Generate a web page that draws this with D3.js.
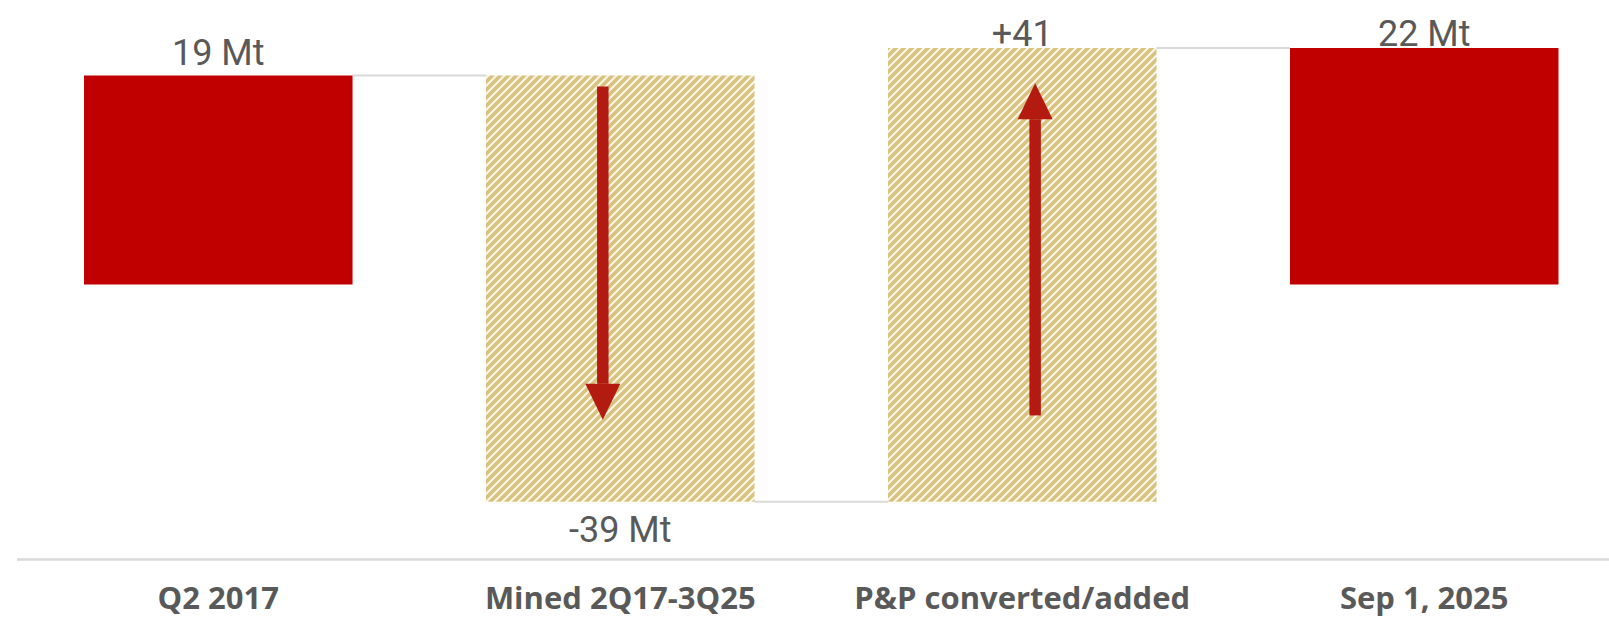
<!DOCTYPE html>
<html>
<head>
<meta charset="utf-8">
<script src="https://cdn.jsdelivr.net/npm/d3@7"></script>
<style>
  html, body { margin: 0; padding: 0; background: #ffffff; }
  svg { display: block; }
</style>
</head>
<body>
<svg id="chart" width="1609" height="619"></svg>
<script>
// ---- data ----
const categories = ["Q2 2017", "Mined 2Q17-3Q25", "P&P converted/added", "Sep 1, 2025"];
const values = [19.0, -38.75, 41.25, 21.5];          // Mt
const barTypes = ["total", "delta", "delta", "total"];
const valueLabels = ["19 Mt", "-39 Mt", "+41", "22 Mt"];
// arrows drawn inside the delta bars (value from -> value to)
const arrowCategories = ["Mined 2Q17-3Q25", "P&P converted/added"];
const arrowFrom = [18.0, -11.9];
const arrowTo = [-12.3, 18.3];

// ---- layout ----
const W = 1609, H = 619;
const svg = d3.select("#chart");

const x = d3.scaleBand()
  .domain(categories)
  .range([17, 1625.5])
  .paddingInner(0.332)
  .paddingOuter(0.1667);

const y = d3.scaleLinear().domain([-20, 22]).range([504.5, 42.5]);

// waterfall geometry
let running = 0;
const bars = categories.map((c, i) => {
  let lo, hi, endVal;
  if (barTypes[i] === "total") {
    lo = 0; hi = values[i]; endVal = values[i];
  } else {
    const start = running, end = running + values[i];
    lo = Math.min(start, end); hi = Math.max(start, end); endVal = end;
  }
  running = endVal;
  return { cat: c, type: barTypes[i], lo, hi, end: endVal, label: valueLabels[i], value: values[i] };
});

// hatch pattern
const defs = svg.append("defs");
const pat = defs.append("pattern")
  .attr("id", "hatch")
  .attr("patternUnits", "userSpaceOnUse")
  .attr("width", 8).attr("height", 8);
pat.append("rect").attr("width", 8).attr("height", 8).attr("fill", "#fbf6e8");
pat.append("path")
  .attr("d", "M-2,2 L2,-2 M0,8 L8,0 M6,10 L10,6")
  .attr("stroke", "#d8c27f")
  .attr("stroke-width", 3.6);

// axis line
svg.append("line")
  .attr("x1", 17).attr("x2", W)
  .attr("y1", 559.5).attr("y2", 559.5)
  .attr("stroke", "#d9d9d9").attr("stroke-width", 2.5);

// connectors
for (let i = 0; i < bars.length - 1; i++) {
  const lvl = bars[i].end;
  svg.append("line")
    .attr("x1", x(bars[i].cat) + x.bandwidth())
    .attr("x2", x(bars[i + 1].cat))
    .attr("y1", y(lvl)).attr("y2", y(lvl))
    .attr("stroke", "#d9d9d9").attr("stroke-width", 2);
}

// bars
svg.selectAll("rect.bar")
  .data(bars)
  .join("rect")
  .attr("class", "bar")
  .attr("x", d => x(d.cat))
  .attr("width", x.bandwidth())
  .attr("y", d => y(d.hi))
  .attr("height", d => y(d.lo) - y(d.hi))
  .attr("fill", d => d.type === "total" ? "#c00000" : "url(#hatch)");

// value labels
svg.selectAll("text.val")
  .data(bars)
  .join("text")
  .attr("class", "val")
  .attr("x", d => x(d.cat) + x.bandwidth() / 2)
  .attr("y", d => d.type === "delta" && d.value < 0
      ? y(d.lo) + 40
      : Math.max(y(d.hi) - 11, 46))
  .attr("text-anchor", "middle")
  .attr("font-family", "Roboto, 'Noto Sans', sans-serif")
  .attr("font-size", 36)
  .attr("fill", "#595959")
  .text(d => d.label);

// arrows
const arrowOffsets = [-0.065, 0.048];
const headW = 35, headH = 36, shaftW = 11.5;
arrowCategories.forEach((c, i) => {
  const cx = x(c) + x.bandwidth() / 2 + arrowOffsets[i] * x.bandwidth();
  const y0 = y(arrowFrom[i]), y1 = y(arrowTo[i]);
  const dir = y1 > y0 ? 1 : -1;
  const baseY = y1 - dir * headH;
  svg.append("rect")
    .attr("x", cx - shaftW / 2)
    .attr("width", shaftW)
    .attr("y", Math.min(y0, baseY))
    .attr("height", Math.abs(baseY - y0))
    .attr("fill", "#b31b10");
  svg.append("path")
    .attr("d", `M${cx - headW / 2},${baseY} L${cx + headW / 2},${baseY} L${cx},${y1} Z`)
    .attr("fill", "#b31b10");
});

// category labels
svg.selectAll("text.cat")
  .data(categories)
  .join("text")
  .attr("class", "cat")
  .attr("x", d => x(d) + x.bandwidth() / 2)
  .attr("y", 609)
  .attr("text-anchor", "middle")
  .attr("font-family", "'Open Sans', 'Noto Sans', sans-serif")
  .attr("font-weight", "bold")
  .attr("font-size", 31)
  .attr("fill", "#595959")
  .text(d => d);
</script>
</body>
</html>
